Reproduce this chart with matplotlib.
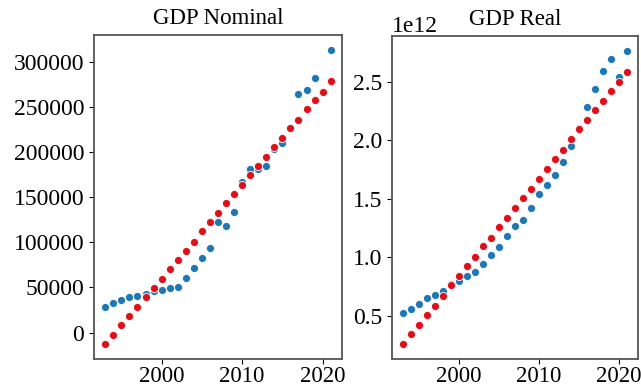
import matplotlib
matplotlib.use("Agg")
import matplotlib.pyplot as plt

plt.rcParams['font.family'] = ['Liberation Serif', 'DejaVu Serif']
plt.rcParams['font.size'] = 17

years = list(range(1993, 2022))

nominal_actual = [27800, 32600, 35900, 39300, 40700, 42200, 45600, 47400, 48900, 50700,
                  60700, 71100, 82200, 94100, 122200, 118500, 133700, 166700, 181500, 181500,
                  184800, 203000, 209600, 227000, 264100, 268500, 282200, 265900, 313300]
nominal_trend = [-13000, -3300, 7800, 17800, 27800, 39600, 49300, 59300, 70700, 80400,
                 90700, 100400, 112200, 122200, 132200, 143700, 153300, 163700, 174400, 184800,
                 194400, 205900, 215900, 226700, 235900, 247400, 257400, 267000, 278900]

real_actual = [0.523, 0.563, 0.599, 0.651, 0.679, 0.716, 0.773, 0.801, 0.841, 0.878,
               0.940, 1.017, 1.091, 1.182, 1.270, 1.321, 1.420, 1.537, 1.614, 1.702,
               1.818, 1.955, 2.105, 2.284, 2.435, 2.588, 2.690, 2.543, 2.764]
real_trend = [0.259, 0.347, 0.423, 0.509, 0.588, 0.673, 0.764, 0.841, 0.926, 1.000,
              1.094, 1.168, 1.256, 1.335, 1.420, 1.509, 1.585, 1.673, 1.753, 1.841,
              1.918, 2.009, 2.097, 2.170, 2.259, 2.335, 2.420, 2.500, 2.585]
real_actual = [v * 1e12 for v in real_actual]
real_trend = [v * 1e12 for v in real_trend]

blue = '#1f77b4'
red = '#e0101a'

fig = plt.figure(figsize=(6.41, 3.87), dpi=100)
ax1 = fig.add_axes([0.1466, 0.0724, 0.3869, 0.8372])
ax2 = fig.add_axes([0.6115, 0.0724, 0.3838, 0.8346])

for ax, actual, trend, title in [(ax1, nominal_actual, nominal_trend, 'GDP Nominal'),
                                 (ax2, real_actual, real_trend, 'GDP Real')]:
    ax.scatter(years, actual, s=34, color=blue, edgecolors='white', linewidths=0.6, zorder=2)
    ax.scatter(years, trend, s=34, color=red, edgecolors='white', linewidths=0.6, zorder=3)
    ax.set_title(title, fontsize=16.5, pad=8)
    ax.set_xticks([2000, 2010, 2020])
    ax.tick_params(axis='x', pad=1.5, labelsize=16.5)
    for s in ax.spines.values():
        s.set_color('#555555')
        s.set_linewidth(1.3)

ax1.set_yticks([0, 50000, 100000, 150000, 200000, 250000, 300000])
ax2.set_yticks([0.5e12, 1.0e12, 1.5e12, 2.0e12, 2.5e12])

fig.savefig('out.png', dpi=100)
